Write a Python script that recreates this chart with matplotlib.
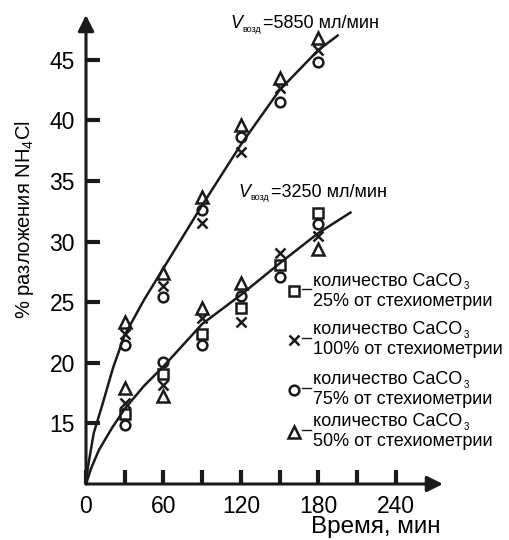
import numpy as np
import matplotlib
matplotlib.use("Agg")
import matplotlib.pyplot as plt
from matplotlib.lines import Line2D

plt.rcParams['font.family'] = ['Liberation Sans', 'DejaVu Sans']
plt.rcParams['mathtext.fontset'] = 'custom'
plt.rcParams['mathtext.rm'] = 'Liberation Sans'
plt.rcParams['mathtext.it'] = 'Liberation Sans:italic'

# время отбора проб, мин
time = [30, 60, 90, 120, 150, 180]

# V = 5850 мл/мин
up_tri = [23.35, 27.4, 33.7, 39.6, 43.5, 46.8]
up_x = [22.4, 26.3, 31.5, 37.4, 42.7, 45.8]
up_circ = [21.45, 25.4, 32.6, 38.6, 41.5, 44.8]

# V = 3250 мл/мин
lo_sq = [15.8, 19.1, 22.4, 24.5, 28.1, 32.35]
lo_x = [16.7, 18.2, 23.7, 23.35, 29.1, 30.5]
lo_circ = [14.85, 20.05, 21.45, 25.5, 27.05, 31.45]
lo_tri = [17.9, 17.3, 24.5, 26.6, np.nan, 29.4]

# сглаживающие кривые
curve_t_up = [0, 1.5, 6, 12, 21, 30, 45, 60, 90, 120, 150, 180, 195]
curve_up = [10, 11.4, 14.2, 16.3, 19.6, 22.3, 25.2, 27.8, 33.0, 38.0, 42.5, 45.8, 47.0]
curve_t_lo = [0, 4, 10, 20, 30, 45, 60, 90, 120, 150, 180, 205]
curve_lo = [10, 11.3, 12.8, 14.6, 16.2, 18.1, 19.7, 23.2, 25.6, 28.2, 30.7, 32.4]

xticks = [0, 30, 60, 90, 120, 150, 180, 210, 240]
xlabels = ["0", "", "60", "", "120", "", "180", "", "240"]
yticks = [15, 20, 25, 30, 35, 40, 45]

W, H = 510, 540


def px(x, y):
    return x / W, 1 - y / H


fig = plt.figure(figsize=(5.1, 5.4), dpi=100)
ax = fig.add_axes([86 / W, 56 / H, (443 - 86) / W, (484 - 15) / H])
ax.set_xlim(0, 276.7)
ax.set_ylim(10, 48.7)
for s in ax.spines.values():
    s.set_visible(False)

# оси со стрелками
ax.annotate("", xy=(1, 0), xytext=(0, 0), xycoords="axes fraction",
            arrowprops=dict(arrowstyle="-|>", mutation_scale=24, lw=2.2, color="#1a1a1a",
                            shrinkA=0, shrinkB=0))
ax.annotate("", xy=(0, 1), xytext=(0, 0), xycoords="axes fraction",
            arrowprops=dict(arrowstyle="-|>", mutation_scale=24, lw=2.2, color="#1a1a1a",
                            shrinkA=0, shrinkB=0))

ax.set_xticks(xticks)
ax.set_xticklabels(xlabels)
ax.set_yticks(yticks)
ax.tick_params(direction="in", length=10, width=3, color="#1a1a1a",
               labelsize=16.5, pad=8)
ax.tick_params(axis="x", which="both", top=False)
ax.tick_params(axis="y", which="both", right=False)

ax.plot(curve_t_up, curve_up, color="#1a1a1a", lw=1.8)
ax.plot(curve_t_lo, curve_lo, color="#1a1a1a", lw=1.8)

mk = dict(mfc="none", mec="#1a1a1a", mew=1.8, ls="none", clip_on=False)
ax.plot(time, up_tri, marker="^", ms=8, **mk)
ax.plot(time, up_x, marker="x", ms=7, **mk)
ax.plot(time, up_circ, marker="o", ms=7, **mk)
ax.plot(time, lo_sq, marker="s", ms=7, **mk)
ax.plot(time, lo_x, marker="x", ms=7, **mk)
ax.plot(time, lo_circ, marker="o", ms=7, **mk)
ax.plot(time, lo_tri, marker="^", ms=8, **mk)

fig.text(*px(441, 527), "Время, мин", fontsize=17.5, ha="right", va="center")
fig.text(*px(25, 220), "% разложения NH$_4$Cl", fontsize=14.5, rotation=90,
         ha="center", va="center")

# подписи кривых: V курсивом, "возд" мелким индексом
for x0, y0, txt in [(230, 24, "=5850 мл/мин"), (238, 192, "=3250 мл/мин")]:
    fig.text(*px(x0, y0), "V", fontsize=13, style="italic", ha="left", va="center")
    fig.text(*px(x0 + 12, y0 + 5), "возд", fontsize=6.5, ha="left", va="center")
    fig.text(*px(x0 + 33, y0), txt, fontsize=13, ha="left", va="center")

# подписи маркеров
legend_markers = ["s", "x", "o", "^"]
legend_pct = ["25%", "100%", "75%", "50%"]
legend_y = [291, 340, 390, 432]
for m, p, yy in zip(legend_markers, legend_pct, legend_y):
    fig.add_artist(Line2D([294 / W], [1 - yy / H], marker=m, ms=7 if m != "^" else 8,
                          mfc="none", mec="#1a1a1a", mew=1.8, ls="none"))
    fig.add_artist(Line2D([302 / W, 311 / W], [1 - (yy - 2) / H] * 2, color="#1a1a1a", lw=1))
    fig.text(*px(313, yy - 10), "количество CaCO", fontsize=13, ha="left", va="center")
    fig.text(*px(464, yy - 5), "3", fontsize=7, ha="left", va="center")
    fig.text(*px(313, yy + 10), p + " от стехиометрии", fontsize=13, ha="left", va="center")

fig.savefig("out.png", dpi=100)
